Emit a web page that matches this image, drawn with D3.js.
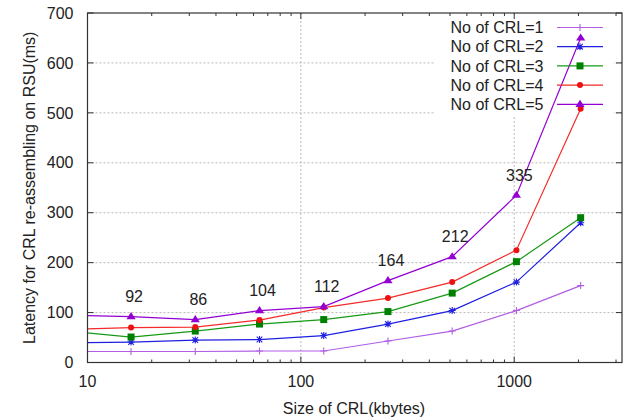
<!DOCTYPE html>
<html>
<head>
<meta charset="utf-8">
<script src="https://cdn.jsdelivr.net/npm/d3@7"></script>
<style>
  html, body { margin: 0; padding: 0; background: #fff; }
  svg { display: block; font-family: "Liberation Sans", Arial, sans-serif; }
</style>
</head>
<body>
<svg id="chart" width="623" height="418"></svg>
<script>
// ---- data ----
const sizes = [8, 16, 32, 64, 128, 256, 512, 1024, 2048];
const crl1 = [22, 22, 22, 23, 23, 43, 63, 104, 154];
const crl2 = [39, 41, 45, 46, 54, 77, 104, 161, 280];
const crl3 = [63, 51, 63, 77, 86, 102, 139, 202, 290];
const crl4 = [66, 70, 71, 85, 110, 129, 161, 225, 508];
const crl5 = [95, 92, 86, 104, 112, 164, 212, 335, 650];
const seriesNames = ["No of CRL=1", "No of CRL=2", "No of CRL=3", "No of CRL=4", "No of CRL=5"];
const labelSizes = [16, 32, 64, 128, 256, 512, 1024];
const labelValues = [92, 86, 104, 112, 164, 212, 335];
const xTickValues = [10, 100, 1000];
const yTickValues = [0, 100, 200, 300, 400, 500, 600, 700];
const xTitle = "Size of CRL(kbytes)";
const yTitle = "Latency for CRL re-assembling on RSU(ms)";

const allSeries = [crl1, crl2, crl3, crl4, crl5];
const colors = ["#b05ee6", "#1f1fe0", "#169a16", "#f52a2a", "#9400d3"];
const markerFill = ["none", "none", "#008000", "#ee1111", "#9400d3"];
const markerTypes = ["plus", "star", "square", "circle", "triangle"];

// ---- layout ----
const L = 87.5, R = 622, T = 13, B = 362.5;
const svg = d3.select("#chart");
const x = d3.scaleLog().domain([10, 3200]).range([L, R]);
const y = d3.scaleLinear().domain([0, 700]).range([B, T]);

// grid
const grid = svg.append("g").attr("stroke", "#a8a8a8").attr("stroke-width", 0.8).attr("stroke-dasharray", "2,2");
yTickValues.filter(v => v > 0 && v < 700).forEach(v => {
  grid.append("line").attr("x1", L).attr("x2", R).attr("y1", y(v)).attr("y2", y(v));
});
xTickValues.filter(v => v > 10).forEach(v => {
  grid.append("line").attr("x1", x(v)).attr("x2", x(v)).attr("y1", T).attr("y2", B);
});

// legend opaque box
svg.append("rect").attr("x", 435).attr("y", 17).attr("width", 178).attr("height", 98).attr("fill", "#fff");

// clip
svg.append("clipPath").attr("id", "clip").append("rect")
  .attr("x", L).attr("y", T).attr("width", R - L).attr("height", B - T);

function marker(g, type, color, fill) {
  if (type === "plus") {
    g.append("path").attr("d", "M-3.5,0H3.5M0,-3.5V3.5").attr("stroke", color).attr("stroke-width", 1.1).attr("fill", "none");
  } else if (type === "star") {
    g.append("path").attr("d", "M-3.5,0H3.5M0,-3.5V3.5M-2.8,-2.8L2.8,2.8M-2.8,2.8L2.8,-2.8").attr("stroke", color).attr("stroke-width", 1.1).attr("fill", "none");
  } else if (type === "square") {
    g.append("rect").attr("x", -3.5).attr("y", -3.5).attr("width", 7).attr("height", 7).attr("fill", fill);
  } else if (type === "circle") {
    g.append("circle").attr("r", 3).attr("fill", fill);
  } else if (type === "triangle") {
    g.append("path").attr("d", "M0,-4.5L4.6,2.6L-4.6,2.6Z").attr("fill", fill);
  }
}

const plot = svg.append("g").attr("clip-path", "url(#clip)");
const line = d3.line().x((d, i) => x(sizes[i])).y(d => y(d));
allSeries.forEach((s, k) => {
  plot.append("path").datum(s).attr("d", line).attr("fill", "none")
    .attr("stroke", colors[k]).attr("stroke-width", 1.2);
});
allSeries.forEach((s, k) => {
  s.forEach((v, i) => {
    if (sizes[i] < 10) return;
    const g = plot.append("g").attr("transform", `translate(${x(sizes[i])},${y(v)})`);
    marker(g, markerTypes[k], colors[k], markerFill[k]);
  });
});

// border
svg.append("rect").attr("x", L).attr("y", T).attr("width", R - L).attr("height", B - T)
  .attr("fill", "none").attr("stroke", "#333").attr("stroke-width", 1.2);

// ticks
const ticks = svg.append("g").attr("stroke", "#333").attr("stroke-width", 1);
yTickValues.forEach(v => {
  ticks.append("line").attr("x1", L).attr("x2", L + 6).attr("y1", y(v)).attr("y2", y(v));
  ticks.append("line").attr("x1", R).attr("x2", R - 6).attr("y1", y(v)).attr("y2", y(v));
});
const minor = [];
[10, 100, 1000].forEach(d => { for (let m = 2; m <= 9; m++) if (d * m <= 3200) minor.push(d * m); });
xTickValues.forEach(v => {
  ticks.append("line").attr("x1", x(v)).attr("x2", x(v)).attr("y1", B).attr("y2", B - 6);
  ticks.append("line").attr("x1", x(v)).attr("x2", x(v)).attr("y1", T).attr("y2", T + 6);
});
minor.forEach(v => {
  ticks.append("line").attr("x1", x(v)).attr("x2", x(v)).attr("y1", B).attr("y2", B - 3);
  ticks.append("line").attr("x1", x(v)).attr("x2", x(v)).attr("y1", T).attr("y2", T + 3);
});

// tick labels
const txt = svg.append("g").attr("font-size", 16).attr("fill", "#222");
yTickValues.forEach(v => {
  txt.append("text").attr("x", 73.5).attr("y", y(v) + 5.7).attr("text-anchor", "end").text(v);
});
xTickValues.forEach(v => {
  txt.append("text").attr("x", x(v)).attr("y", 386.5).attr("text-anchor", "middle").text(v);
});

// axis titles
txt.append("text").attr("x", 354).attr("y", 413.5).attr("text-anchor", "middle").text(xTitle);
txt.append("text").attr("transform", `translate(34.5,${(T + B) / 2}) rotate(-90)`)
  .attr("text-anchor", "middle").text(yTitle);

// data labels
labelSizes.forEach((sz, i) => {
  txt.append("text").attr("x", x(sz) + 3).attr("y", y(labelValues[i] + 40) + 5.7)
    .attr("text-anchor", "middle").text(labelValues[i]);
});

// legend
seriesNames.forEach((name, k) => {
  const cy = 27.5 + k * 19.2;
  txt.append("text").attr("x", 543.5).attr("y", cy + 5.7).attr("text-anchor", "end").text(name);
  svg.append("line").attr("x1", 557).attr("x2", 603).attr("y1", cy).attr("y2", cy)
    .attr("stroke", colors[k]).attr("stroke-width", 1.2);
  const g = svg.append("g").attr("transform", `translate(580,${cy})`);
  marker(g, markerTypes[k], colors[k], markerFill[k]);
});
</script>
</body>
</html>
